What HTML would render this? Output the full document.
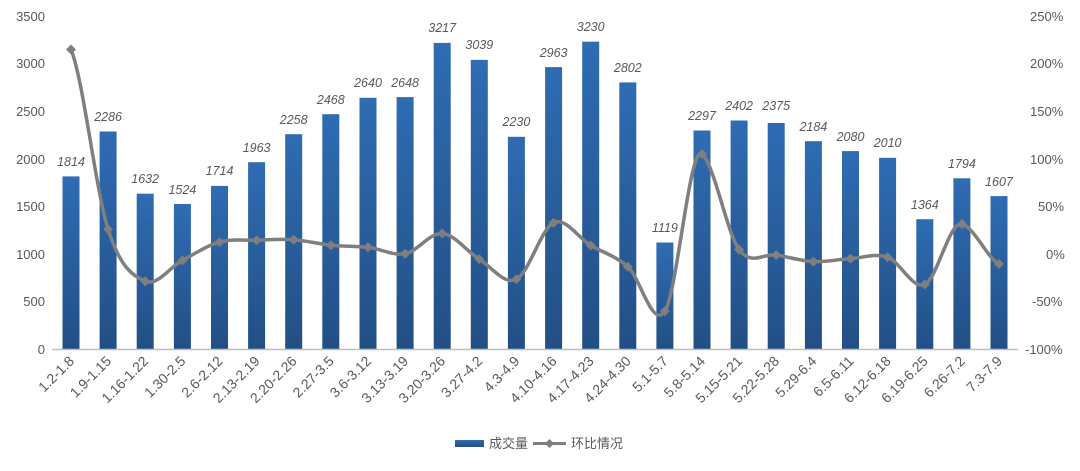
<!DOCTYPE html>
<html><head><meta charset="utf-8"><style>
body{margin:0;background:#fff;}
svg text{font-family:"Liberation Sans","Noto Sans CJK SC",sans-serif;fill:#595959;}
</style></head><body>
<svg width="1080" height="466" viewBox="0 0 1080 466" xmlns="http://www.w3.org/2000/svg">
<defs>
<linearGradient id="g" x1="0" y1="0" x2="0" y2="1">
<stop offset="0" stop-color="#2f6cb3"/><stop offset="1" stop-color="#224f85"/>
</linearGradient>
</defs>
<g font-size="13" text-anchor="end">
<text x="45" y="354">0</text><text x="45" y="306">500</text><text x="45" y="259">1000</text><text x="45" y="211">1500</text><text x="45" y="164">2000</text><text x="45" y="116">2500</text><text x="45" y="68">3000</text><text x="45" y="21">3500</text>
</g>
<g font-size="13" text-anchor="start">
<text x="1025" y="354">-100%</text><text x="1032" y="306">-50%</text><text x="1046" y="259">0%</text><text x="1038" y="211">50%</text><text x="1030" y="164">100%</text><text x="1030" y="116">150%</text><text x="1030" y="68">200%</text><text x="1030" y="21">250%</text>
</g>
<g fill="url(#g)">
<rect x="62.5" y="176.4" width="17" height="172.6"/>
<rect x="99.6" y="131.5" width="17" height="217.5"/>
<rect x="136.7" y="193.7" width="17" height="155.3"/>
<rect x="173.9" y="204" width="17" height="145"/>
<rect x="211" y="185.9" width="17" height="163.1"/>
<rect x="248.1" y="162.2" width="17" height="186.8"/>
<rect x="285.2" y="134.2" width="17" height="214.8"/>
<rect x="322.3" y="114.2" width="17" height="234.8"/>
<rect x="359.5" y="97.8" width="17" height="251.2"/>
<rect x="396.6" y="97.1" width="17" height="251.9"/>
<rect x="433.7" y="42.9" width="17" height="306.1"/>
<rect x="470.8" y="59.9" width="17" height="289.1"/>
<rect x="507.9" y="136.8" width="17" height="212.2"/>
<rect x="545.1" y="67.1" width="17" height="281.9"/>
<rect x="582.2" y="41.7" width="17" height="307.3"/>
<rect x="619.3" y="82.4" width="17" height="266.6"/>
<rect x="656.4" y="242.5" width="17" height="106.5"/>
<rect x="693.5" y="130.5" width="17" height="218.5"/>
<rect x="730.6" y="120.5" width="17" height="228.5"/>
<rect x="767.7" y="123" width="17" height="226"/>
<rect x="804.9" y="141.2" width="17" height="207.8"/>
<rect x="842" y="151.1" width="17" height="197.9"/>
<rect x="879.1" y="157.8" width="17" height="191.2"/>
<rect x="916.3" y="219.2" width="17" height="129.8"/>
<rect x="953.4" y="178.3" width="17" height="170.7"/>
<rect x="990.5" y="196.1" width="17" height="152.9"/>
</g>
<line x1="52" y1="349.5" x2="1018" y2="349.5" stroke="#bfbfbf" stroke-width="1.5"/>
<g font-size="12.5" font-style="italic" text-anchor="middle" fill="#404040">
<text x="71" y="166">1814</text><text x="108.1" y="121">2286</text><text x="145.2" y="183">1632</text><text x="182.4" y="194">1524</text><text x="219.5" y="175">1714</text><text x="256.6" y="152">1963</text><text x="293.7" y="124">2258</text><text x="330.8" y="104">2468</text><text x="368" y="87">2640</text><text x="405.1" y="87">2648</text><text x="442.2" y="32">3217</text><text x="479.3" y="49">3039</text><text x="516.4" y="126">2230</text><text x="553.6" y="57">2963</text><text x="590.7" y="31">3230</text><text x="627.8" y="72">2802</text><text x="664.9" y="232">1119</text><text x="702" y="120">2297</text><text x="739.1" y="110">2402</text><text x="776.2" y="110">2375</text><text x="813.4" y="131">2184</text><text x="850.5" y="141">2080</text><text x="887.6" y="147">2010</text><text x="924.8" y="209">1364</text><text x="961.9" y="168">1794</text><text x="999" y="186">1607</text>
</g>
<path fill="none" stroke="#7f7f7f" stroke-width="3.5" stroke-linejoin="round" d="M71,49.5
C83.4,79.5 95.7,190.7 108.1,229.3
C120.5,267.9 132.8,276 145.2,281.2
C157.6,286.4 170,266.8 182.4,260.3
C194.8,253.8 207.1,245.5 219.5,242.1
C231.9,238.7 244.2,240.6 256.6,240.2
C269,239.8 281.3,238.9 293.7,239.7
C306.1,240.5 318.4,243.9 330.8,245.2
C343.2,246.5 355.6,245.9 368,247.3
C380.4,248.7 392.7,256 405.1,253.7
C417.5,251.4 429.8,232.6 442.2,233.5
C454.6,234.4 466.9,251.6 479.3,259.2
C491.7,266.8 504,285.4 516.4,279.3
C528.8,273.2 541.2,228.4 553.6,222.7
C566,217 578.3,238.1 590.7,245.4
C603.1,252.7 615.4,255.8 627.8,266.7
C640.2,277.6 652.5,329.9 664.9,311.1
C677.3,292.3 689.6,143.9 702,154.1
C714.4,164.3 726.7,232.8 739.1,249.6
C751.5,266.4 763.8,253 776.2,255
C788.6,257 801,261 813.4,261.6
C825.8,262.2 838.1,259.3 850.5,258.6
C862.9,257.9 875.2,252.9 887.6,257.2
C900,261.5 912.4,289.9 924.8,284.4
C937.2,278.9 949.5,220.6 961.9,224
C974.3,227.4 986.6,257.3 999,263.9"/>
<g fill="#7f7f7f">
<path d="M71 44.5l5 5-5 5-5-5z"/><path d="M108.1 224.3l5 5-5 5-5-5z"/><path d="M145.2 276.2l5 5-5 5-5-5z"/><path d="M182.4 255.3l5 5-5 5-5-5z"/><path d="M219.5 237.1l5 5-5 5-5-5z"/><path d="M256.6 235.2l5 5-5 5-5-5z"/><path d="M293.7 234.7l5 5-5 5-5-5z"/><path d="M330.8 240.2l5 5-5 5-5-5z"/><path d="M368 242.3l5 5-5 5-5-5z"/><path d="M405.1 248.7l5 5-5 5-5-5z"/><path d="M442.2 228.5l5 5-5 5-5-5z"/><path d="M479.3 254.2l5 5-5 5-5-5z"/><path d="M516.4 274.3l5 5-5 5-5-5z"/><path d="M553.6 217.7l5 5-5 5-5-5z"/><path d="M590.7 240.4l5 5-5 5-5-5z"/><path d="M627.8 261.7l5 5-5 5-5-5z"/><path d="M664.9 306.1l5 5-5 5-5-5z"/><path d="M702 149.1l5 5-5 5-5-5z"/><path d="M739.1 244.6l5 5-5 5-5-5z"/><path d="M776.2 250l5 5-5 5-5-5z"/><path d="M813.4 256.6l5 5-5 5-5-5z"/><path d="M850.5 253.6l5 5-5 5-5-5z"/><path d="M887.6 252.2l5 5-5 5-5-5z"/><path d="M924.8 279.4l5 5-5 5-5-5z"/><path d="M961.9 219l5 5-5 5-5-5z"/><path d="M999 258.9l5 5-5 5-5-5z"/>
</g>
<g font-size="14" text-anchor="end">
<text transform="translate(75,362) rotate(-45)">1.2-1.8</text>
<text transform="translate(112.1,362) rotate(-45)">1.9-1.15</text>
<text transform="translate(149.2,362) rotate(-45)">1.16-1.22</text>
<text transform="translate(186.4,362) rotate(-45)">1.30-2.5</text>
<text transform="translate(223.5,362) rotate(-45)">2.6-2.12</text>
<text transform="translate(260.6,362) rotate(-45)">2.13-2.19</text>
<text transform="translate(297.7,362) rotate(-45)">2.20-2.26</text>
<text transform="translate(334.8,362) rotate(-45)">2.27-3.5</text>
<text transform="translate(372,362) rotate(-45)">3.6-3.12</text>
<text transform="translate(409.1,362) rotate(-45)">3.13-3.19</text>
<text transform="translate(446.2,362) rotate(-45)">3.20-3.26</text>
<text transform="translate(483.3,362) rotate(-45)">3.27-4.2</text>
<text transform="translate(520.4,362) rotate(-45)">4.3-4.9</text>
<text transform="translate(557.6,362) rotate(-45)">4.10-4.16</text>
<text transform="translate(594.7,362) rotate(-45)">4.17-4.23</text>
<text transform="translate(631.8,362) rotate(-45)">4.24-4.30</text>
<text transform="translate(668.9,362) rotate(-45)">5.1-5.7</text>
<text transform="translate(706,362) rotate(-45)">5.8-5.14</text>
<text transform="translate(743.1,362) rotate(-45)">5.15-5.21</text>
<text transform="translate(780.2,362) rotate(-45)">5.22-5.28</text>
<text transform="translate(817.4,362) rotate(-45)">5.29-6.4</text>
<text transform="translate(854.5,362) rotate(-45)">6.5-6.11</text>
<text transform="translate(891.6,362) rotate(-45)">6.12-6.18</text>
<text transform="translate(928.8,362) rotate(-45)">6.19-6.25</text>
<text transform="translate(965.9,362) rotate(-45)">6.26-7.2</text>
<text transform="translate(1003,362) rotate(-45)">7.3-7.9</text>
</g>
<rect x="455" y="440" width="29" height="7" fill="url(#g)"/>
<text x="489" y="448" font-size="13">成交量</text>
<line x1="533" y1="443.5" x2="566" y2="443.5" stroke="#7f7f7f" stroke-width="3"/>
<path d="M549.5 439l4.5 4.5-4.5 4.5-4.5-4.5z" fill="#7f7f7f"/>
<text x="571" y="448" font-size="13">环比情况</text>
</svg>
</body></html>
